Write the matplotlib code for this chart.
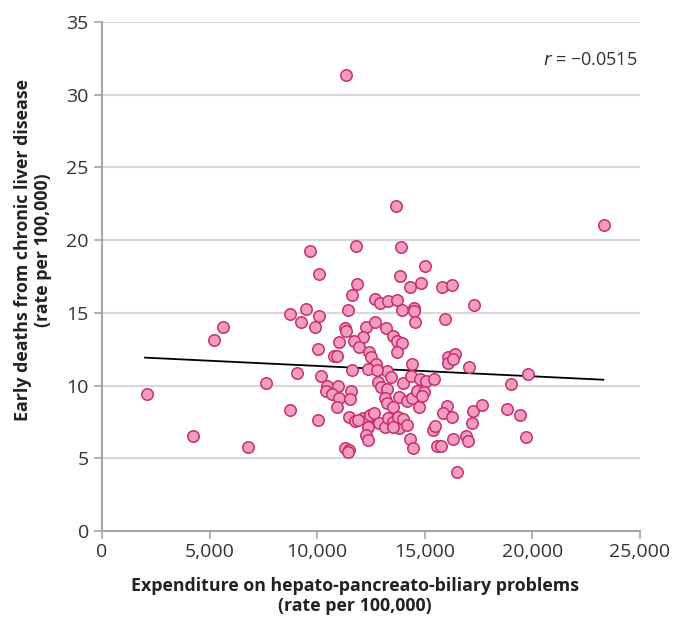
import matplotlib
matplotlib.use("Agg")
import matplotlib.pyplot as plt
from matplotlib.ticker import FuncFormatter

# expenditure (rate per 100,000) and early deaths (rate per 100,000)
spend = [11350, 13650, 23330, 9690, 11800, 13890, 10080, 15020, 13830, 11860,
         11600, 14310, 14820, 15810, 16250, 12710, 12920, 13280, 13730, 13950,
         14500, 14500, 14540, 17270, 15950, 11450, 8740, 9490, 9270, 10070,
         9900, 5610, 5190, 11300, 11350, 12250, 12680, 13180, 12140, 11710,
         13540, 13720, 13940, 11030, 11940, 12420, 12480, 13710, 10060, 10790,
         10910, 12750, 14400, 16070, 16100, 16420, 16330, 17060, 11600, 12340,
         13260, 12760, 9040, 10160, 7640, 2070, 4230, 6800, 8720, 10050,
         13420, 13970, 14360, 14800, 15060, 15440, 12840, 12965, 13230, 10470,
         10950, 10410, 10700, 11030, 11570, 11540, 10910, 13150, 13800, 14160,
         14390, 14630, 14950, 14860, 14750, 13257, 13510, 16015, 15860, 16280,
         17250, 17660, 17190, 11490, 11760, 12140, 12300, 12450, 12640, 12870,
         12350, 12270, 12380, 13150, 13300, 13540, 13770, 13815, 14000, 14160,
         15400, 15470, 14310, 14470, 15550, 15740, 16330, 16900, 17020, 16510,
         11290, 11490, 11450, 19810, 19000, 18800, 19420, 19690, 11910, 13540]
deaths = [31.35, 22.35, 21.05, 19.25, 19.6, 19.5, 17.65, 18.2, 17.5, 16.95,
          16.2, 16.8, 17.05, 16.8, 16.9, 15.95, 15.7, 15.8, 15.85, 15.2,
          15.35, 15.1, 14.35, 15.55, 14.55, 15.2, 14.95, 15.25, 14.35, 14.8,
          14.0, 14.05, 13.15, 13.95, 13.75, 14.0, 14.4, 13.98, 13.36, 13.06,
          13.4, 13.05, 12.95, 12.97, 12.65, 12.33, 11.93, 12.29, 12.48, 12.03,
          12.05, 11.45, 11.48, 11.97, 11.55, 12.15, 11.8, 11.3, 11.1, 11.15,
          11.0, 11.07, 10.83, 10.66, 10.2, 9.45, 6.55, 5.78, 8.3, 7.65,
          10.6, 10.15, 10.65, 10.45, 10.33, 10.45, 10.22, 9.92, 9.74, 9.98,
          9.97, 9.6, 9.4, 9.17, 9.65, 9.06, 8.55, 9.12, 9.19, 8.96,
          9.17, 9.6, 9.55, 9.28, 8.5, 8.78, 8.55, 8.62, 8.09, 7.82,
          8.27, 8.66, 7.43, 7.86, 7.58, 7.75, 7.63, 7.98, 8.14, 7.41,
          7.17, 6.6, 6.26, 7.17, 7.75, 7.52, 7.86, 7.06, 7.68, 7.29,
          6.95, 7.22, 6.33, 5.69, 5.87, 5.85, 6.33, 6.53, 6.17, 4.08,
          5.73, 5.57, 5.43, 10.8, 10.08, 8.37, 7.98, 6.44, 7.63, 7.13]

# trend line end points as drawn
trend_x = [2000, 23300]
trend_y = [11.92, 10.40]

x_ticks = [0, 5000, 10000, 15000, 20000, 25000]
y_ticks = [0, 5, 10, 15, 20, 25, 30, 35]

plt.rcParams['font.family'] = ['Open Sans', 'DejaVu Sans']

fig = plt.figure(figsize=(6.78, 6.19), dpi=100)
ax = fig.add_axes([0.1504, 0.1422, 0.7935, 0.8223])

for yt in y_ticks[1:]:
    ax.axhline(yt, color='#d9d9d9', lw=1.5, zorder=0)

ax.plot(trend_x, trend_y, color='black', lw=1.3, zorder=2)
ax.scatter(spend, deaths, s=68, facecolor='#f29cc3', edgecolor='#c8306a',
           linewidth=1.1, zorder=3)

ax.set_xlim(0, 25000)
ax.set_ylim(0, 35)
ax.set_xticks(x_ticks)
ax.set_yticks(y_ticks)
ax.xaxis.set_major_formatter(FuncFormatter(lambda v, p: f"{int(v):,}"))

for s in ['top', 'right']:
    ax.spines[s].set_visible(False)
for s in ['left', 'bottom']:
    ax.spines[s].set_color('#a6a6a6')
    ax.spines[s].set_linewidth(1.5)
ax.tick_params(axis='both', colors='#a6a6a6', labelcolor='#333333',
               labelsize=14, length=6, width=1.2)
ax.tick_params(axis='x', pad=3)

ax.text(0.995, 0.925, r'$r$ = −0.0515', transform=ax.transAxes,
        ha='right', va='center', fontsize=13, color='#333333')

ax.set_xlabel('Expenditure on hepato-pancreato-biliary problems\n(rate per 100,000)',
              fontsize=12.8, fontweight='bold', color='#222222',
              linespacing=1.15)
ax.xaxis.set_label_coords(0.47, -0.09, transform=ax.transAxes)
ax.xaxis.label.set_va('top')
ax.set_ylabel('Early deaths from chronic liver disease\n(rate per 100,000)',
              fontsize=12.8, fontweight='bold', color='#222222',
              linespacing=1.15)
ax.yaxis.set_label_coords(-0.128, 0.552, transform=ax.transAxes)
ax.yaxis.label.set_va('center')

fig.savefig('out.png', dpi=100)
